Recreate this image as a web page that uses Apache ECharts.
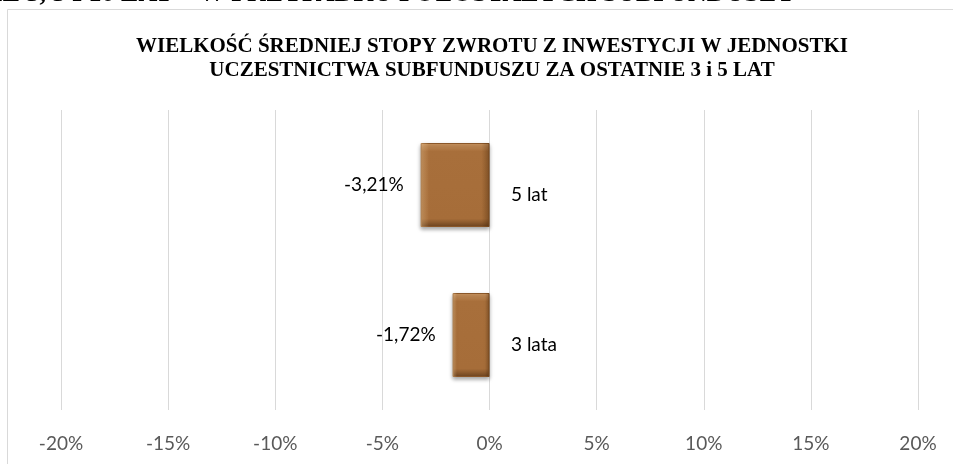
<!DOCTYPE html>
<html>
<head>
<meta charset="utf-8">
<script src="https://cdn.jsdelivr.net/npm/echarts@6/dist/echarts.min.js"></script>
<style>
    html, body { margin: 0; padding: 0; background: #fff; }
    #chart { width: 953px; height: 464px; }
</style>
</head>
<body>
<div id="chart"></div>
<script>
const categories = ['3 lata', '5 lat']
const values = [-1.72, -3.21]
const xMin = -20
const xMax = 20
const xStep = 5

const chart = echarts.init(document.getElementById('chart'))

// bevel look: lighter top edge, darker bottom edge
const barFill = new echarts.graphic.LinearGradient(0, 0, 0, 1, [
    { offset: 0, color: '#d09a64' },
    { offset: 0.1, color: '#a86f3b' },
    { offset: 0.9, color: '#a66d39' },
    { offset: 1, color: '#6e4420' }
])
// side edges of the bevel, drawn over the same bars
const sideFill = new echarts.graphic.LinearGradient(0, 0, 1, 0, [
    { offset: 0, color: 'rgba(255,215,160,0.35)' },
    { offset: 0.12, color: 'rgba(255,215,160,0)' },
    { offset: 0.88, color: 'rgba(60,30,0,0)' },
    { offset: 1, color: 'rgba(60,30,0,0.3)' }
])

chart.setOption({
    animation: false,
    graphic: [
        {
            type: 'text',
            x: 795,
            y: 7,
            style: {
                text: 'NIE 3, 5 I 10 LAT – W PRZYPADKU POZOSTAŁYCH SUBFUNDUSZY',
                font: 'bold 26px "Liberation Serif"',
                fill: '#000',
                align: 'right',
                verticalAlign: 'bottom'
            }
        },
        {
            type: 'rect',
            shape: { x: 7.5, y: 9.5, width: 1000, height: 1000 },
            style: { fill: 'none', stroke: '#d9d9d9', lineWidth: 1 },
            z: -1
        }
    ],
    title: {
        text: 'WIELKOŚĆ ŚREDNIEJ STOPY ZWROTU Z INWESTYCJI W JEDNOSTKI\nUCZESTNICTWA SUBFUNDUSZU ZA OSTATNIE 3 i 5 LAT',
        left: 487,
        textAlign: 'center',
        top: 30,
        textStyle: {
            fontFamily: 'Liberation Serif',
            fontWeight: 'bold',
            fontSize: 21,
            lineHeight: 24,
            color: '#000'
        }
    },
    grid: {
        left: 61,
        right: 35,
        top: 110,
        bottom: 54
    },
    xAxis: {
        type: 'value',
        min: xMin,
        max: xMax,
        interval: xStep,
        axisLine: { show: false },
        axisTick: { show: false },
        splitLine: { lineStyle: { color: '#d9d9d9', width: 1 } },
        axisLabel: {
            formatter: v => v + '%',
            fontFamily: 'Lato',
            fontSize: 19,
            color: '#595959',
            margin: 24
        }
    },
    yAxis: {
        type: 'category',
        data: categories,
        axisLine: { show: false },
        axisTick: { show: false },
        axisLabel: {
            inside: true,
            margin: 450,
            fontFamily: 'Lato',
            fontSize: 19,
            color: '#000',
            verticalAlign: 'top'
        }
    },
    series: [
        {
            type: 'bar',
            data: values,
            barCategoryGap: '44%',
            itemStyle: {
                color: barFill,
                borderColor: '#8a5729',
                borderWidth: 1,
                shadowColor: 'rgba(0,0,0,0.35)',
                shadowBlur: 4,
                shadowOffsetY: 2
            },
            label: {
                show: true,
                position: 'left',
                distance: 17,
                formatter: p => p.value.toFixed(2).replace('.', ',') + '%',
                fontFamily: 'Lato',
                fontSize: 19,
                color: '#000'
            }
        },
        {
            type: 'bar',
            data: values,
            barGap: '-100%',
            barCategoryGap: '44%',
            silent: true,
            itemStyle: { color: sideFill }
        }
    ]
})
</script>
</body>
</html>
